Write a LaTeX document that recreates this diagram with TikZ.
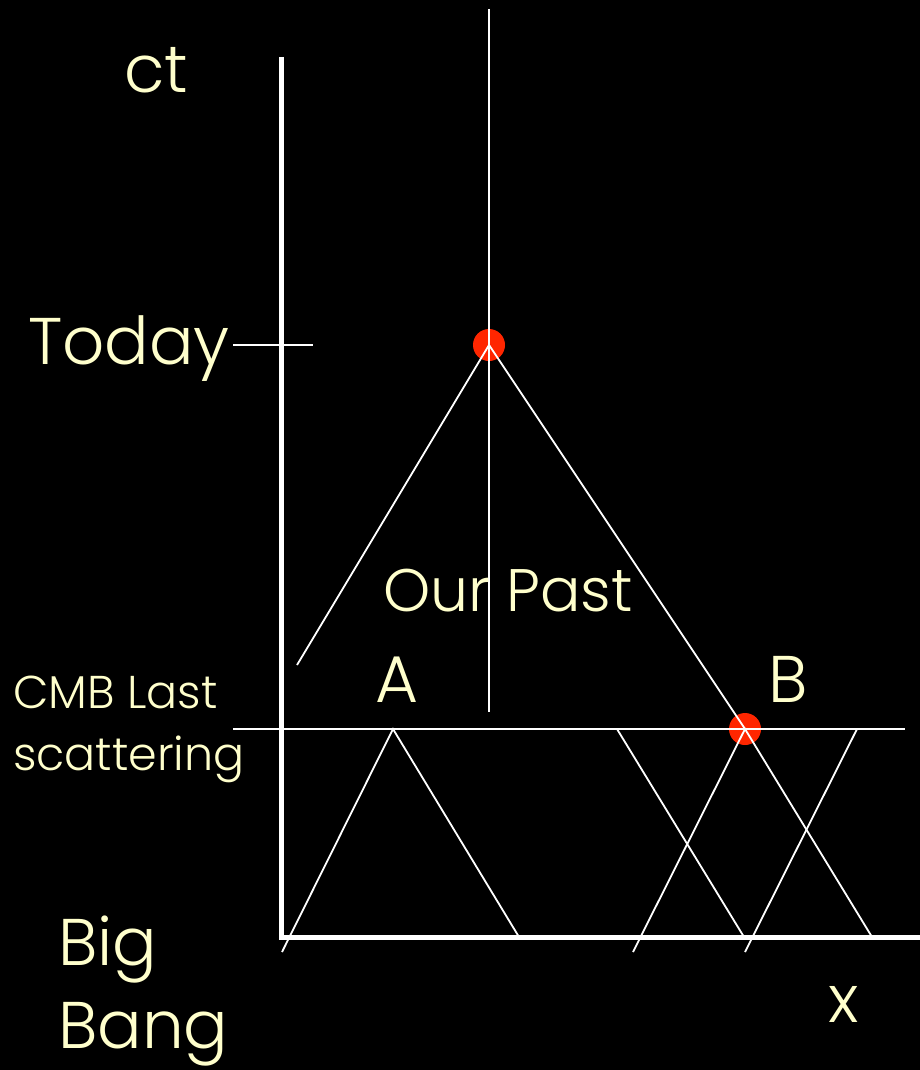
\documentclass[tikz,border=0pt]{standalone}
\usepackage{fontspec}
\setmainfont{Poppins}[UprightFont=* Light]
\definecolor{cream}{HTML}{FFFFCC}
\definecolor{dotred}{HTML}{FF2600}
\begin{document}
\begin{tikzpicture}[x=1pt,y=-1pt,
  axis/.style={white,line width=5pt},
  ray/.style={white,line width=1.8pt},
  lbl/.style={text=cream,anchor=base west,inner sep=0pt,font=\fontsize{66}{70}\selectfont},
  small/.style={text=cream,anchor=base west,inner sep=0pt,font=\fontsize{46}{50}\selectfont},
  mid/.style={text=cream,anchor=base west,inner sep=0pt,font=\fontsize{60}{64}\selectfont},
  dot/.style={circle,fill=dotred,minimum size=32pt,inner sep=0pt}]
\fill[black] (0,0) rectangle (920,1070);
\useasboundingbox (0,0) rectangle (920,1070);
% coordinates
\coordinate (O) at (281,937);
\coordinate (Ytop) at (281,57);
\coordinate (Xend) at (920,937);
\coordinate (Wtop) at (489,9);
\coordinate (Wbot) at (489,712);
\coordinate (Tl) at (233,345);
\coordinate (Tr) at (313,345);
\coordinate (Cl) at (297,665);
\coordinate (Ml) at (233,729);
\coordinate (Mr) at (905,729);
\coordinate (Aapex) at (393,729);
\coordinate (Al) at (282,952);
\coordinate (Ar) at (519,937);
\coordinate (P1) at (617,729);
\coordinate (P1b) at (744,937);
\coordinate (Bl) at (633,952);
\coordinate (Br) at (872,937);
\coordinate (P2) at (857,729);
\coordinate (P2b) at (745,952);
% dots
\node[dot] (today) at (489,345) {};
\node[dot] (B) at (745,729) {};
% lines
\draw[axis] (Ytop) -- (O) -- (Xend);
\draw[ray] (Wtop) -- (Wbot);
\draw[ray] (Tl) -- (Tr);
\draw[ray] (today.center) -- (Cl);
\draw[ray] (today.center) -- (B.center);
\draw[ray] (Ml) -- (Mr);
\draw[ray] (Al) -- (Aapex) -- (Ar);
\draw[ray] (P1) -- (P1b);
\draw[ray] (Bl) -- (B.center) -- (Br);
\draw[ray] (P2) -- (P2b);
% labels
\node[lbl] (ct) at (124,93) {ct};
\node[lbl] (tday) at (28,364) {Today};
\node[mid] (past) at (383,611) {Our Past};
\node[lbl] (la) at (375,702) {A};
\node[lbl] (lb) at (768,702) {B};
\node[small] (cmb1) at (13,708) {CMB Last};
\node[small] (cmb2) at (13,770) {scattering};
\node[lbl] (big) at (58,965) {Big};
\node[lbl] (bang) at (58,1048) {Bang};
\node[lbl] (x) at (828,1022) {x};
\end{tikzpicture}
\end{document}
